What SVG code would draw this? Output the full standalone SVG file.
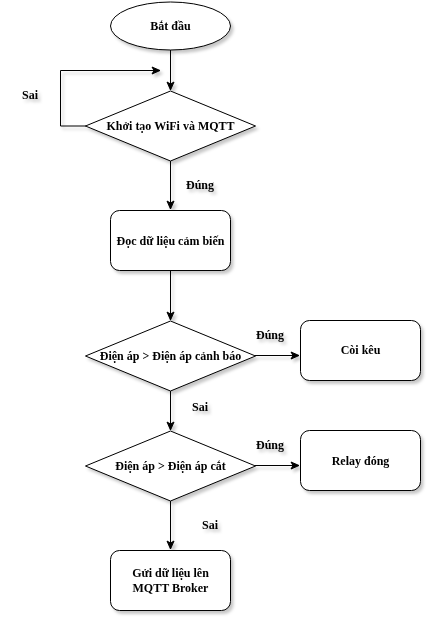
<svg xmlns="http://www.w3.org/2000/svg" width="433" height="623" viewBox="0 0 433 623">
<defs>
<filter id="sh" x="-20%" y="-20%" width="150%" height="150%">
<feDropShadow dx="2.5" dy="3" stdDeviation="1.6" flood-color="#000" flood-opacity="0.22"/>
</filter>
<marker id="arr" markerUnits="userSpaceOnUse" markerWidth="10" markerHeight="10" viewBox="0 0 10 10" refX="9" refY="5" orient="auto">
<path d="M1,1.5 L9,5 L1,8.5 L3,5 Z" fill="#000" stroke="#000" stroke-width="1"/>
</marker>
</defs>
<style>
.s{fill:#fff;stroke:#000;stroke-width:1}
.t{font-family:"Liberation Serif","Times New Roman",serif;font-weight:bold;font-size:12px;fill:#000;text-anchor:middle}
.c{fill:none;stroke:#000;stroke-width:1;marker-end:url(#arr)}
</style>
<rect width="433" height="623" fill="#fff"/>
<g filter="url(#sh)">
<g id="connectors">
<path class="c" d="M170.5,50 L170.5,90"/>
<path class="c" d="M86,126 L60.5,126 L60.5,70.5 L160,70.5"/>
<path class="c" d="M170.5,161 L170.5,209"/>
<path class="c" d="M170.5,270 L170.5,320"/>
<path class="c" d="M255,355.5 L299,355.5"/>
<path class="c" d="M170.5,391 L170.5,430"/>
<path class="c" d="M255,465.5 L299,465.5"/>
<path class="c" d="M170.5,501 L170.5,549"/>
</g>
<g id="labels">
<text class="t" x="30" y="99">Sai</text>
<text class="t" x="200" y="189">Đúng</text>
<text class="t" x="270" y="339">Đúng</text>
<text class="t" x="200" y="411">Sai</text>
<text class="t" x="270" y="449">Đúng</text>
<text class="t" x="210" y="529">Sai</text>
</g>
<g id="start">
<ellipse class="s" cx="170.5" cy="26" rx="60" ry="24"/>
<text class="t" x="170.5" y="30">Bắt đầu</text>
</g>
<g id="init">
<path class="s" d="M170.5,91 L255.5,126 L170.5,161 L85.5,126 Z"/>
<text class="t" x="170.5" y="130">Khởi tạo WiFi và MQTT</text>
</g>
<g id="read">
<rect class="s" x="110.5" y="210.5" width="120" height="60" rx="9"/>
<text class="t" x="170.5" y="245">Đọc dữ liệu cảm biến</text>
</g>
<g id="warn">
<path class="s" d="M170.5,321 L255.5,356 L170.5,391 L85.5,356 Z"/>
<text class="t" x="170.5" y="360">Điện áp &gt; Điện áp cảnh báo</text>
</g>
<g id="buzzer">
<rect class="s" x="300.5" y="320.5" width="120" height="60" rx="9"/>
<text class="t" x="360.5" y="354">Còi kêu</text>
</g>
<g id="cut">
<path class="s" d="M170.5,431 L255.5,466 L170.5,501 L85.5,466 Z"/>
<text class="t" x="170.5" y="470">Điện áp &gt; Điện áp cắt</text>
</g>
<g id="relay">
<rect class="s" x="300.5" y="430.5" width="120" height="60" rx="9"/>
<text class="t" x="360.5" y="465">Relay đóng</text>
</g>
<g id="send">
<rect class="s" x="110.5" y="550.5" width="120" height="60" rx="9"/>
<text class="t" x="170.5" y="577">Gửi dữ liệu lên</text>
<text class="t" x="170.5" y="592">MQTT Broker</text>
</g>
</g>
</svg>
